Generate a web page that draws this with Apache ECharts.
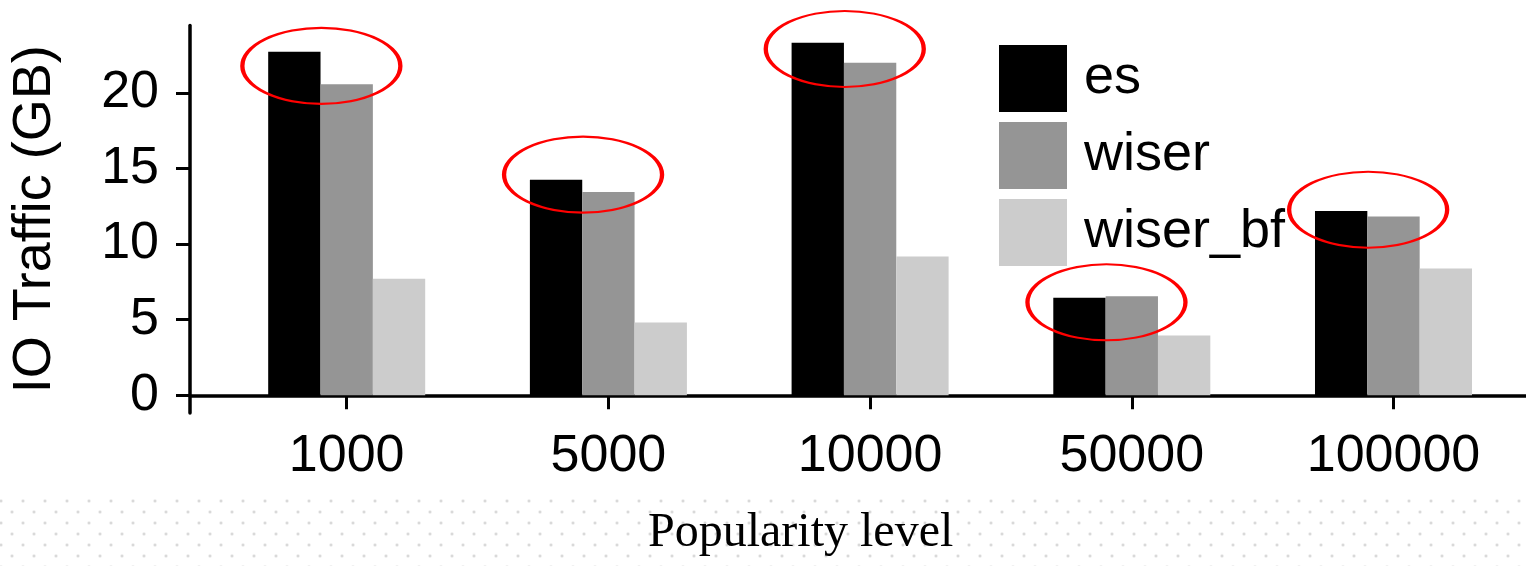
<!DOCTYPE html>
<html>
<head>
<meta charset="utf-8">
<script src="https://cdn.jsdelivr.net/npm/echarts@6/dist/echarts.min.js"></script>
<style>
html,body{margin:0;padding:0;background:#fff;}
#wrap{position:relative;width:1526px;height:566px;overflow:hidden;background:#fff;}
#dots{position:absolute;left:0;top:495px;width:1526px;height:71px;
  background-image:
    radial-gradient(circle at 5.5px 5.5px, #d0d0d0 0px, #d0d0d0 1.1px, rgba(255,255,255,0) 1.5px),
    radial-gradient(circle at 16.5px 16.5px, #d0d0d0 0px, #d0d0d0 1.1px, rgba(255,255,255,0) 1.5px);
  background-size:22px 22px;
  background-position:-4.5px 0.5px;}
#chart{position:absolute;left:0;top:0;width:1526px;height:566px;}
</style>
</head>
<body>
<div id="wrap">
  <div id="dots"></div>
  <div id="chart"></div>
</div>
<script>
// ---- data ----
const categories = ['1000', '5000', '10000', '50000', '100000'];
const seriesNames = ['es', 'wiser', 'wiser_bf'];
const esValues = [22.72, 14.25, 23.31, 6.45, 12.18];
const wiserValues = [20.57, 13.44, 21.99, 6.55, 11.82];
const wiserBfValues = [7.71, 4.82, 9.17, 3.96, 8.38];
const yTickValues = [0, 5, 10, 15, 20];
// annotation ellipses: centre value (GB) for each group
const highlightValues = [21.78, 14.59, 22.9, 6.15, 12.27];

const FONT = "'Liberation Sans', Arial, Helvetica, sans-serif";
const colors = ['#000000', '#959595', '#cccccc'];

const chart = echarts.init(document.getElementById('chart'), null, {renderer: 'canvas'});

const ellipsePath = 'path://M0,50 A50,50 0 1,1 100,50 A50,50 0 1,1 0,50 Z';

const option = {
  backgroundColor: 'transparent',
  animation: false,
  title: {
    text: 'Popularity level',
    left: 648,
    top: 509,
    padding: 0,
    textStyle: {fontFamily: "'Liberation Serif', 'Times New Roman', serif", fontSize: 48, fontWeight: 'normal', color: '#000'}
  },
  legend: {
    data: seriesNames,
    orient: 'vertical',
    left: 999,
    top: 45,
    itemWidth: 68,
    itemHeight: 67,
    itemGap: 10,
    icon: 'rect',
    selectedMode: false,
    padding: 0,
    textStyle: {fontSize: 54, fontFamily: FONT, color: '#000', padding: [6, 0, 0, 12]}
  },
  grid: [
    {left: 215.85, top: 25.5, width: 1308.5, height: 387.5, containLabel: false},
    {left: 188, top: 25.5, width: 1362, height: 387.5, containLabel: false}
  ],
  xAxis: [
    {
      type: 'category', gridIndex: 0, data: categories,
      axisLine: {show: false},
      axisTick: {show: true, alignWithLabel: true, length: 14, lineStyle: {color: '#000', width: 3}},
      axisLabel: {interval: 0, fontSize: 52, fontFamily: FONT, color: '#000', margin: 18},
      splitLine: {show: false}
    },
    {
      type: 'value', gridIndex: 1, min: 0, max: 1,
      axisLine: {show: true, lineStyle: {color: '#000', width: 3.5}},
      axisTick: {show: false}, axisLabel: {show: false}, splitLine: {show: false}
    }
  ],
  yAxis: [
    {
      type: 'value', gridIndex: 0, min: -1.17, max: 24.45,
      axisLine: {show: false}, axisTick: {show: false}, axisLabel: {show: false}, splitLine: {show: false}
    },
    {
      type: 'value', gridIndex: 1, min: -1.17, max: 24.45,
      name: 'IO Traffic (GB)', nameLocation: 'middle', nameRotate: 90, nameGap: 128,
      nameTextStyle: {fontSize: 54, fontFamily: FONT, color: '#000'},
      axisLine: {show: true, lineStyle: {color: '#000', width: 3.5}},
      axisTick: {show: true, length: 14, customValues: yTickValues, lineStyle: {color: '#000', width: 3}},
      axisLabel: {fontSize: 52, fontFamily: FONT, color: '#000', margin: 31, customValues: yTickValues},
      splitLine: {show: false}
    }
  ],
  series: [
    {
      name: seriesNames[0], type: 'bar', xAxisIndex: 0, yAxisIndex: 0,
      data: esValues, barGap: '0%', barCategoryGap: '40%',
      itemStyle: {color: colors[0]},
      markPoint: {
        symbol: ellipsePath,
        symbolSize: [158, 76],
        symbolOffset: [27, 0],
        silent: true,
        label: {show: false},
        itemStyle: {color: 'rgba(0,0,0,0)', borderColor: '#ff0000', borderWidth: 3},
        data: categories.map((c, i) => ({coord: [c, highlightValues[i]]}))
      }
    },
    {
      name: seriesNames[1], type: 'bar', xAxisIndex: 0, yAxisIndex: 0,
      data: wiserValues, barGap: '0%', barCategoryGap: '40%',
      itemStyle: {color: colors[1]}
    },
    {
      name: seriesNames[2], type: 'bar', xAxisIndex: 0, yAxisIndex: 0,
      data: wiserBfValues, barGap: '0%', barCategoryGap: '40%',
      itemStyle: {color: colors[2]}
    }
  ]
};
chart.setOption(option);
</script>
</body>
</html>
